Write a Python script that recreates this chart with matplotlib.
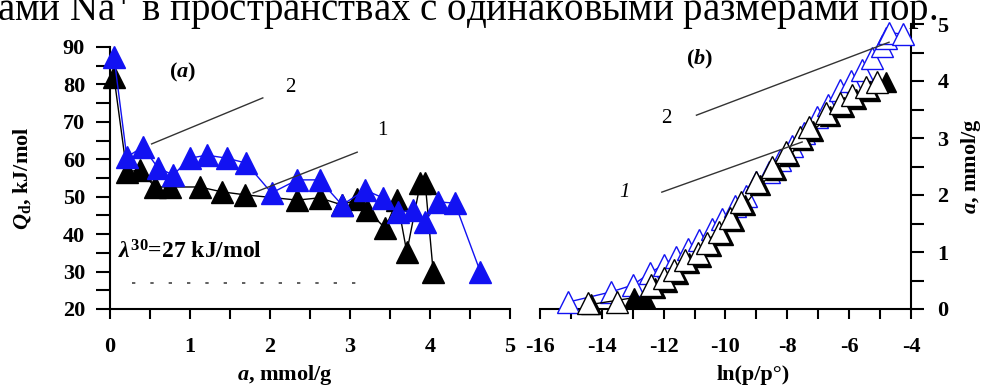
import matplotlib

matplotlib.use("Agg")
import matplotlib.pyplot as plt

plt.rcParams["font.family"] = ["Liberation Serif", "DejaVu Serif"]
plt.rcParams["mathtext.fontset"] = "custom"
plt.rcParams["mathtext.rm"] = "Liberation Serif:bold"
plt.rcParams["mathtext.it"] = "Liberation Serif:italic:bold"
plt.rcParams["mathtext.bf"] = "Liberation Serif:bold"
plt.rcParams["axes.unicode_minus"] = False

BLUE = "#1212f2"

# (a) heat of adsorption vs loading
A_BLACK_X = [0.05, 0.21, 0.38, 0.56, 0.75, 1.12, 1.40, 1.69, 2.34, 2.62, 2.90,
             3.09, 3.21, 3.44, 3.59, 3.71, 3.88, 3.94, 4.04]
A_BLACK_Q = [82.0, 56.6, 57.2, 52.6, 52.6, 52.6, 51.3, 50.5, 49.1, 49.7, 47.8,
             49.3, 46.5, 41.6, 49.1, 35.2, 53.7, 53.7, 29.9]
A_BLUE_X = [0.05, 0.21, 0.41, 0.60, 0.79, 1.00, 1.21, 1.46, 1.70, 2.02, 2.34,
            2.62, 2.90, 3.19, 3.41, 3.60, 3.79, 3.94, 4.10, 4.31, 4.63]
A_BLUE_Q = [87.3, 60.6, 63.3, 57.7, 55.8, 60.3, 61.1, 60.3, 59.0, 51.0, 54.5,
            54.5, 47.8, 51.8, 49.7, 45.9, 46.4, 43.3, 48.6, 48.3, 29.9]
LAMBDA_Q = 27
LAMBDA_X = [0.27, 3.17]

# (b) isotherms, a vs ln(p/p0)
B_BLUE_X = [-15.1, -13.7, -13.0, -12.45, -12.0, -11.6, -11.2, -10.85, -10.45,
            -10.1, -9.7, -9.35, -9.0, -8.6, -8.25, -7.85, -7.45, -7.05, -6.7,
            -6.3, -5.95, -5.6, -5.25, -4.95, -4.8, -4.7, -4.25]
B_BLUE_A = [0.12, 0.30, 0.42, 0.63, 0.78, 0.92, 1.06, 1.21, 1.40, 1.58, 1.80,
            1.98, 2.22, 2.40, 2.62, 2.86, 3.08, 3.37, 3.58, 3.84, 4.00, 4.19,
            4.40, 4.62, 4.75, 4.85, 4.82]
B_FILL_X = [-14.35, -12.95, -12.6, -12.28, -11.88, -11.53, -11.18, -10.78,
            -10.48, -10.08, -9.73, -9.38, -8.88, -8.38, -7.93, -7.48, -7.18,
            -6.63, -6.18, -5.78, -5.33, -4.8]
B_FILL_A = [0.08, 0.20, 0.20, 0.36, 0.48, 0.62, 0.80, 0.92, 1.10, 1.29, 1.54,
            1.82, 2.17, 2.43, 2.69, 2.96, 3.13, 3.38, 3.55, 3.69, 3.83, 3.98]
B_OPEN_X = [-14.45, -13.5, -12.4, -12.0, -11.65, -11.3, -10.9, -10.6, -10.2,
            -9.85, -9.5, -9.0, -8.5, -8.05, -7.6, -7.3, -6.75, -6.3, -5.9,
            -5.45, -5.1]
B_OPEN_A = [0.10, 0.12, 0.42, 0.54, 0.68, 0.86, 0.98, 1.16, 1.35, 1.60, 1.88,
            2.23, 2.49, 2.75, 3.02, 3.19, 3.44, 3.61, 3.75, 3.89, 3.98]

# leader lines for the curve numbers
A_LEAD2_X, A_LEAD2_Y = [0.52, 1.91], [64.1, 76.4]
A_LEAD1_X, A_LEAD1_Y = [1.79, 3.09], [51.0, 61.9]
B_LEAD2_X, B_LEAD2_Y = [-10.94, -4.71], [3.40, 4.68]
B_LEAD1_X, B_LEAD1_Y = [-12.06, -7.52], [2.05, 2.93]

TOP_LINE = "ами Na$^{+}$ в пространствах с одинаковыми размерами пор."

fig = plt.figure(figsize=(9.84, 3.87), dpi=100)
fig.text(-0.003, 1 - 21 / 387, TOP_LINE, fontsize=28, va="baseline",
         ha="left", color="black")

TICK_FS = 16

# ---- panel (a)
ax1 = fig.add_axes([110 / 984, 78 / 387, 400 / 984, 262 / 387])
ax1.plot(A_BLACK_X, A_BLACK_Q, color="black", lw=1.0, marker="^", ms=16,
         mfc="black", mec="black", clip_on=False, zorder=3)
ax1.plot(A_BLUE_X, A_BLUE_Q, color=BLUE, lw=1.0, marker="^", ms=16,
         mfc=BLUE, mec=BLUE, clip_on=False, zorder=4)
ax1.hlines(LAMBDA_Q, LAMBDA_X[0], LAMBDA_X[1], colors="#444444", lw=1.2,
           linestyles=(0, (2, 9)))
ax1.plot(A_LEAD2_X, A_LEAD2_Y, color="#333333", lw=1.0, zorder=5)
ax1.plot(A_LEAD1_X, A_LEAD1_Y, color="#333333", lw=1.0, zorder=5)
ax1.text(0.91, 83.3, "$(a)$", fontsize=16, ha="center", va="center")
ax1.text(2.25, 79.3, "2", fontsize=15, ha="center", va="center")
ax1.text(3.41, 67.8, "1", fontsize=15, ha="center", va="center")
ax1.text(0.1, 35.2, r"$\lambda^{\mathit{30}}$=27 kJ/mol", fontsize=17,
         fontweight="bold", ha="left", va="center")

ax1.set_xlim(0, 5)
ax1.set_ylim(20, 90)
ax1.set_xticks(range(0, 6))
ax1.set_xticks([0.5, 1.5, 2.5, 3.5, 4.5], minor=True)
ax1.set_yticks(range(20, 91, 10))
ax1.set_yticks(range(25, 90, 10), minor=True)
for s in ("top", "right"):
    ax1.spines[s].set_visible(False)
for s in ("left", "bottom"):
    ax1.spines[s].set_linewidth(1.5)
ax1.tick_params(axis="x", which="both", direction="out", length=7, width=1.5,
                pad=13)
ax1.tick_params(axis="y", which="both", direction="out", length=10, width=1.5,
                pad=8)
for lab in ax1.get_xticklabels() + ax1.get_yticklabels():
    lab.set_fontsize(TICK_FS)
    lab.set_fontweight("bold")
ax1.set_xlabel("$a$, mmol/g", fontsize=16, fontweight="bold")
ax1.xaxis.set_label_coords(175 / 400, -54 / 262)
ax1.set_ylabel(r"$Q_{\mathbf{d}}$, kJ/mol", fontsize=16, fontweight="bold")
ax1.yaxis.set_label_coords(-77 / 400, 0.5)

# ---- panel (b)
ax2 = fig.add_axes([540 / 984, 78 / 387, 371 / 984, 285 / 387])
ax2.plot(B_BLUE_X, B_BLUE_A, color=BLUE, lw=1.0, marker="^", ms=16,
         mfc="white", mec=BLUE, mew=1.0, clip_on=False, zorder=3)
ax2.plot(B_FILL_X, B_FILL_A, color="black", lw=1.0, marker="^", ms=15,
         mfc="black", mec="black", clip_on=False, zorder=4)
ax2.plot(B_OPEN_X, B_OPEN_A, ls="none", marker="^", ms=16, mfc="white",
         mec="black", mew=1.0, clip_on=False, zorder=5)
ax2.plot(B_LEAD2_X, B_LEAD2_Y, color="#333333", lw=1.0, zorder=6)
ax2.plot(B_LEAD1_X, B_LEAD1_Y, color="#333333", lw=1.0, zorder=6)
ax2.text(-10.84, 4.37, "$(b)$", fontsize=16, ha="center", va="center")
ax2.text(-11.9, 3.35, "2", fontsize=15, ha="center", va="center")
ax2.text(-13.26, 2.04, "1", fontsize=15, ha="center", va="center",
         style="italic")

ax2.set_xlim(-16, -4)
ax2.set_ylim(0, 5)
ax2.set_xticks(range(-16, -3, 2))
ax2.set_xticks(range(-15, -4, 2), minor=True)
ax2.set_yticks(range(0, 6))
ax2.set_yticks([0.5, 1.5, 2.5, 3.5, 4.5], minor=True)
for s in ("top", "left"):
    ax2.spines[s].set_visible(False)
for s in ("right", "bottom"):
    ax2.spines[s].set_linewidth(1.5)
ax2.yaxis.tick_right()
ax2.yaxis.set_label_position("right")
ax2.tick_params(axis="x", which="both", direction="out", length=7, width=1.5,
                pad=13)
ax2.tick_params(axis="y", which="both", direction="out", length=9, width=1.5,
                pad=10)
for lab in ax2.get_xticklabels() + ax2.get_yticklabels():
    lab.set_fontsize(TICK_FS)
    lab.set_fontweight("bold")
ax2.set_xlabel("ln(p/p°)", fontsize=16, fontweight="bold")
ax2.xaxis.set_label_coords(213 / 371, -56 / 285)
ax2.set_ylabel("$a$, mmol/g", fontsize=16, fontweight="bold", rotation=90)
ax2.yaxis.set_label_coords(1 + 48 / 371, 0.5)

fig.savefig("out.png", dpi=100)
